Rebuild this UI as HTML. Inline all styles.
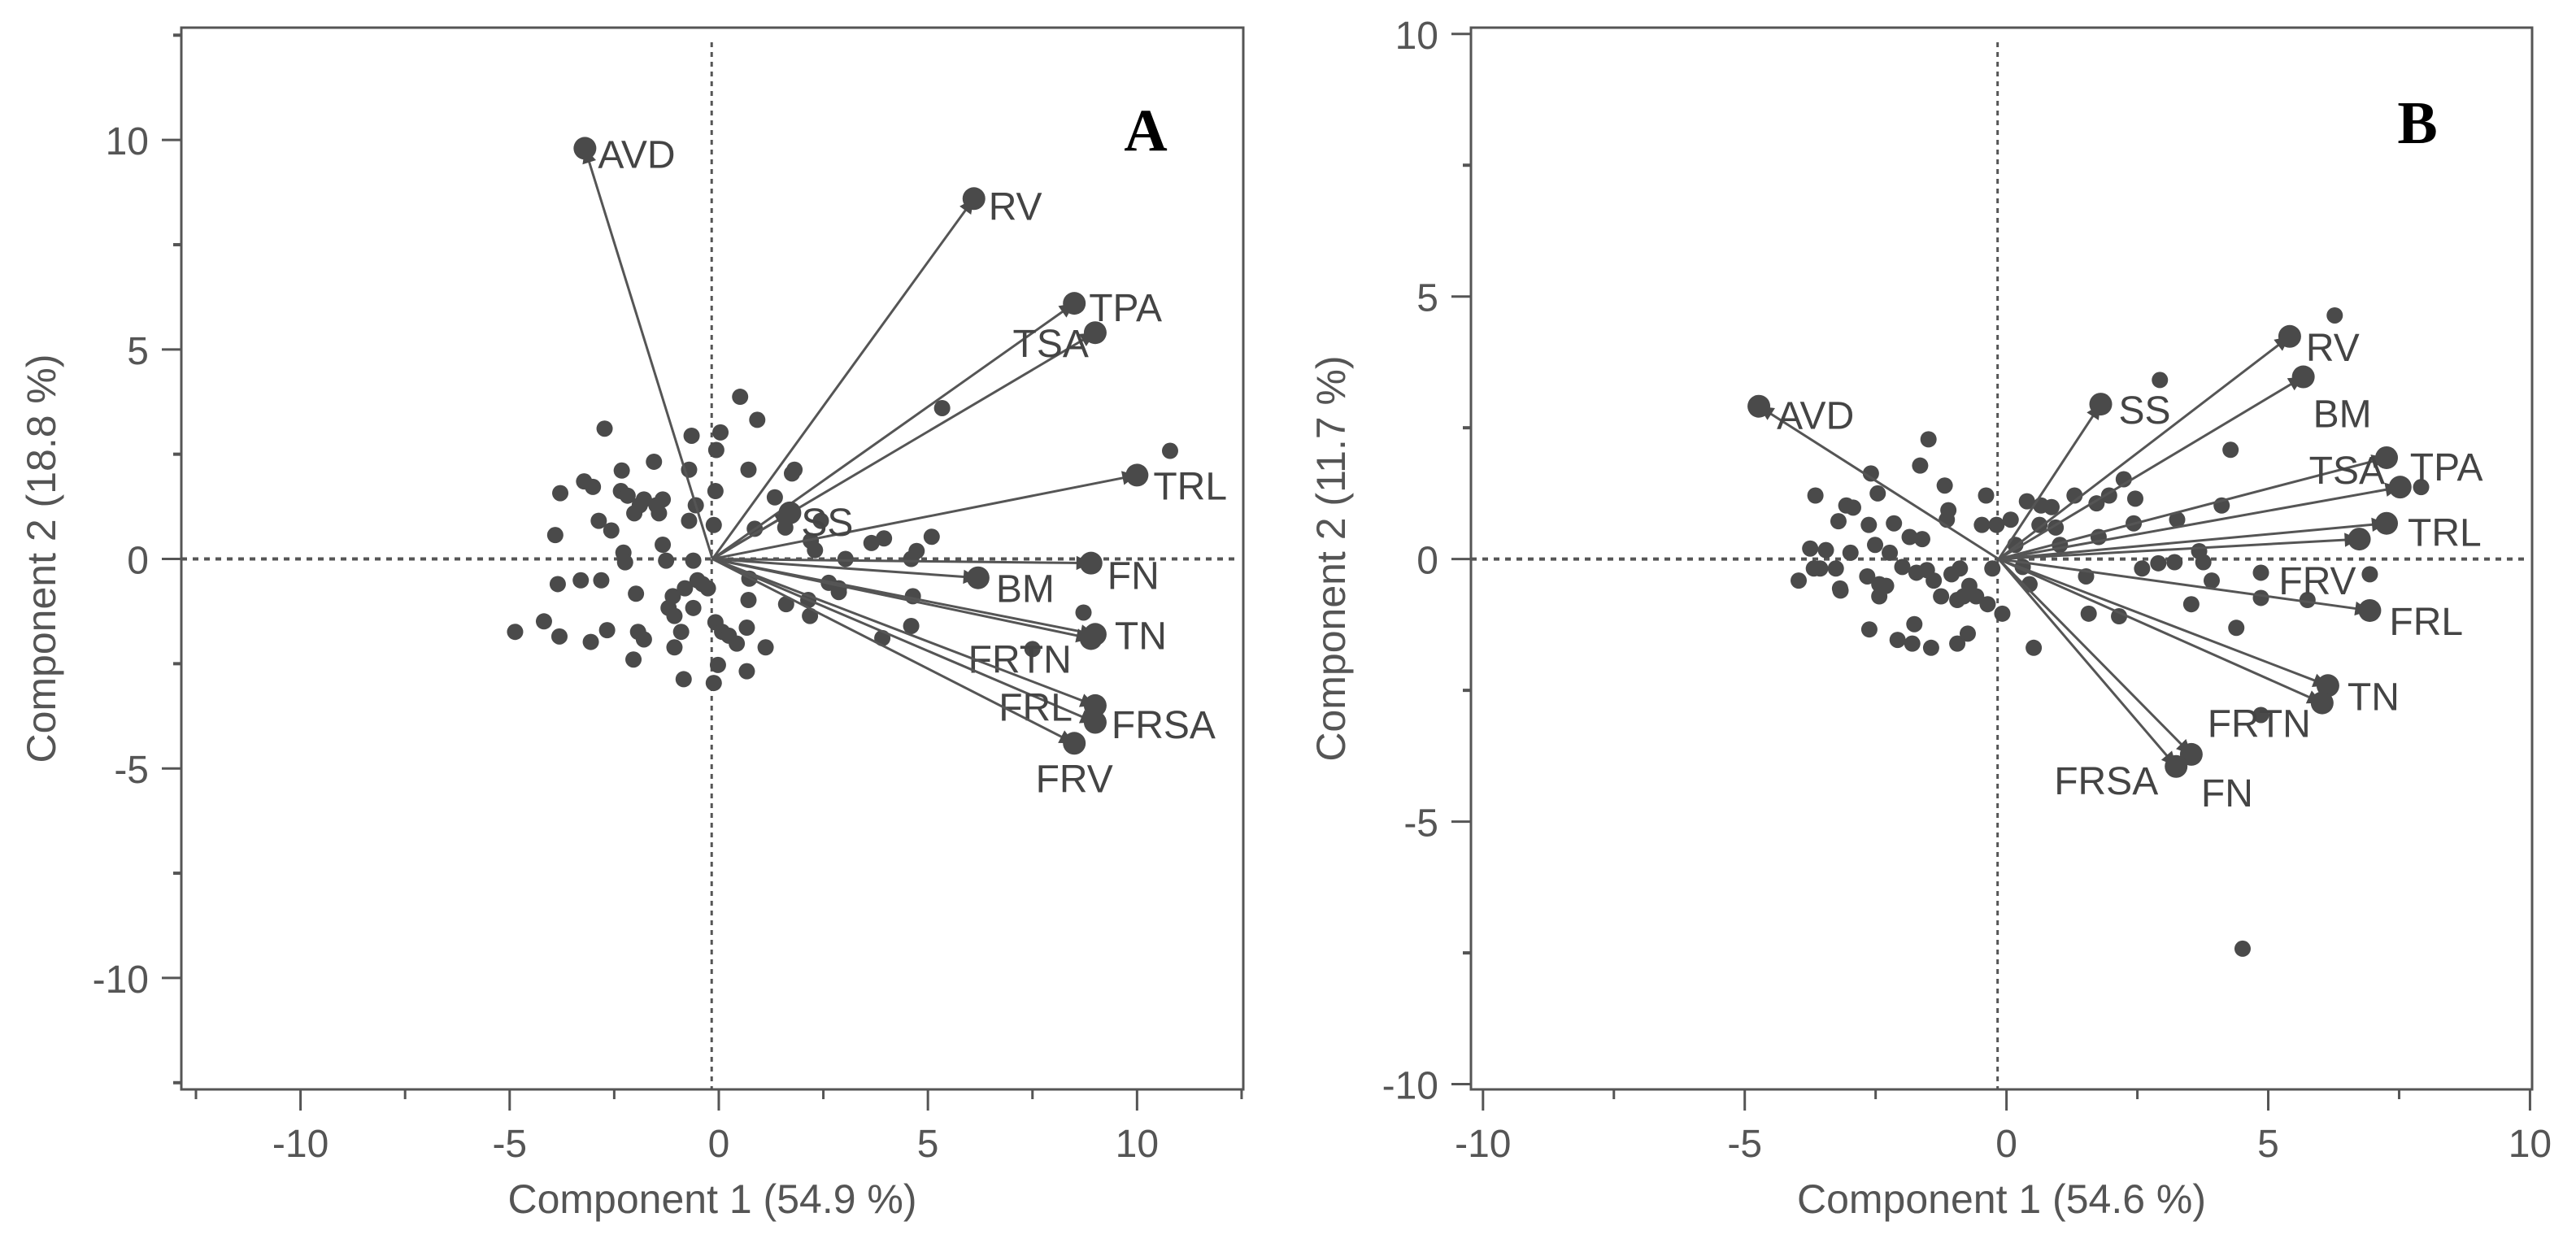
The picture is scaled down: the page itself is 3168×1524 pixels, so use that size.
<!DOCTYPE html>
<html><head><meta charset="utf-8"><style>
html,body{margin:0;padding:0;background:#fff;}
svg{display:block;font-family:"Liberation Sans",sans-serif;}
</style></head><body>
<svg id="chart" width="3168" height="1524" viewBox="0 0 3168 1524" xmlns="http://www.w3.org/2000/svg"></svg>
<script>
// ---- Panel A data ----
const aVarNames = ["AVD","RV","TPA","TSA","TRL","SS","FN","BM","TN","FRTN","FRSA","FRL","FRV"];
const aVarX = [-3.2,6.1,8.5,9.0,10.0,1.7,8.9,6.2,9.0,8.9,9.0,9.0,8.5];
const aVarY = [9.8,8.6,6.1,5.4,2.0,1.1,-0.1,-0.45,-1.8,-1.9,-3.5,-3.9,-4.4];
const aPtX = [-4.87,-4.18,-3.81,-3.06,-2.67,-3.79,-3.91,-3.85,-3.30,-3.22,-3.01,-2.73,-2.87,-2.81,-2.57,-2.32,-2.34,-2.18,-2.28,-2.24,-1.98,-2.02,-1.89,-1.79,-1.93,-1.79,-2.04,-1.55,-1.49,-1.43,-1.34,-1.26,-1.34,-1.10,-1.20,-1.06,-0.90,-1.06,-0.84,-0.71,-0.65,-0.71,-0.55,-0.81,-0.51,-0.61,-0.39,-0.26,-0.61,-0.12,-0.08,-0.06,0.04,-0.08,-0.02,-0.12,0.08,0.24,0.43,0.67,0.67,0.71,0.73,0.71,0.51,0.92,0.86,1.34,1.75,1.81,1.59,2.20,2.30,2.14,2.18,1.61,2.63,2.87,3.03,2.87,3.65,3.95,4.60,4.73,5.09,4.64,4.60,3.91,5.34,7.50,8.72,10.79,2.44,1.12];
const aPtY = [-1.74,-1.49,-1.85,-1.98,-1.70,1.57,0.57,-0.60,-0.51,1.85,1.72,3.11,0.91,-0.51,0.68,2.11,1.62,1.51,0.15,-0.08,-0.83,1.09,1.28,1.42,-1.74,-1.92,-2.40,2.32,1.28,1.09,0.34,-0.04,1.42,-0.89,-1.17,-1.36,-1.74,-2.11,-2.87,2.13,2.94,0.91,1.28,-0.70,-0.51,-1.17,-0.60,-0.70,-0.04,0.81,1.62,2.60,3.02,-1.51,-2.53,-2.96,-1.74,-1.83,-2.02,-1.64,-2.68,-0.98,-0.47,2.13,3.87,3.32,0.72,1.47,2.04,2.13,0.75,0.43,0.21,-0.98,-1.36,-1.08,-0.57,-0.70,0.0,-0.79,0.38,0.49,0.0,0.19,0.53,-0.89,-1.60,-1.89,3.60,-2.15,-1.28,2.58,0.91,-2.11];
const aTicks = [-10,-5,0,5,10];
const aTickLabels = ["-10","-5","0","5","10"];
// ---- Panel B data ----
const bVarNames = ["AVD","SS","RV","BM","TSA","TPA","TRL","FRV","FRL","TN","FRTN","FN","FRSA"];
const bVarX = [-4.73,1.80,5.41,5.67,7.26,7.52,7.26,6.74,6.94,6.14,6.03,3.53,3.24];
const bVarY = [2.91,2.95,4.24,3.47,1.93,1.37,0.68,0.38,-0.98,-2.41,-2.74,-3.72,-3.95];
const bPtX = [-3.97,-3.75,-3.68,-3.65,-3.45,-3.56,-3.26,-3.18,-3.21,-3.06,-2.98,-2.93,-3.17,-2.59,-2.46,-2.63,-2.66,-2.62,-2.51,-2.43,-2.43,-2.30,-2.23,-2.15,-2.08,-1.99,-1.85,-1.76,-1.80,-1.72,-1.65,-1.61,-1.52,-1.49,-1.44,-1.39,-1.25,-1.18,-1.14,-1.11,-1.05,-0.94,-0.94,-0.89,-0.82,-0.74,-0.71,-0.58,-0.47,-0.39,-0.36,-0.27,-0.19,-0.08,0.08,0.17,0.31,0.39,0.44,0.52,0.66,0.63,0.86,0.94,1.02,1.30,1.52,1.57,1.72,1.76,1.96,2.15,2.24,2.46,2.43,2.59,2.90,2.93,3.21,3.26,3.53,3.68,3.76,3.92,4.11,4.28,4.39,4.86,4.86,5.75,6.27,6.94,7.92,4.51,4.86];
const bPtY = [-0.41,0.20,-0.18,1.21,0.17,-0.18,-0.18,-0.56,0.72,1.02,0.12,0.98,-0.60,1.63,1.25,0.65,-0.33,-1.34,0.27,-0.48,-0.71,-0.51,0.12,0.68,-1.54,-0.15,0.42,-1.24,-1.61,-0.26,1.78,0.38,-0.21,2.28,-1.69,-0.41,-0.71,1.40,0.75,0.93,-0.29,-0.78,-1.61,-0.18,-0.71,-1.42,-0.51,-0.71,0.65,1.21,-0.86,-0.18,0.65,-1.04,0.75,0.27,-0.15,1.10,-0.48,-1.69,1.02,0.65,0.99,0.60,0.27,1.21,-0.33,-1.04,1.06,0.42,1.21,-1.09,1.52,1.15,0.68,-0.18,-0.08,3.41,-0.06,0.75,-0.86,0.15,-0.06,-0.41,1.02,2.08,-1.31,-0.26,-0.74,-0.78,4.64,-0.29,1.37,-7.42,-2.97];
const bTicks = [-10,-5,0,5,10];
const bTickLabels = ["-10","-5","0","5","10"];

const NS="http://www.w3.org/2000/svg";
const svg=document.getElementById('chart');
function mk(tag,attrs,parent){const e=document.createElementNS(NS,tag);for(const k in attrs)e.setAttribute(k,attrs[k]);(parent||svg).appendChild(e);return e;}
const C="#4a4a4a";

const aOff={AVD:[16,24,'start'],RV:[18,26,'start'],TPA:[18,22,'start'],TSA:[-8,30,'end'],TRL:[20,30,'start'],SS:[14,28,'start'],FN:[20,32,'start'],BM:[22,30,'start'],TN:[24,18,'start'],FRTN:[-24,42,'end'],FRSA:[20,40,'start'],FRL:[-28,-2,'end'],FRV:[0,60,'middle']};
const bOff={AVD:[22,28,'start'],SS:[22,24,'start'],RV:[20,30,'start'],BM:[12,62,'start'],TSA:[-2,32,'end'],TPA:[12,-8,'start'],TRL:[26,28,'start'],FRV:[-4,68,'end'],FRL:[24,30,'start'],TN:[24,30,'start'],FRTN:[-14,42,'end'],FN:[12,64,'start'],FRSA:[-22,34,'end']};

function panel(o){
  const g=mk('g',{});
  
  
  const sx=v=>o.L+(v-o.xmin)/(o.xmax-o.xmin)*(o.R-o.L);
  const sy=v=>o.B-(v-o.ymin)/(o.ymax-o.ymin)*(o.B-o.T);
  const fr=mk('rect',{x:o.L,y:o.T,width:o.R-o.L,height:o.B-o.T,fill:'none',stroke:'#555','stroke-width':3},g);
  
  // ticks
  for(let v=Math.ceil(o.xmin/2.5)*2.5; v<=o.xmax+1e-9; v+=2.5){
    const major=Math.abs(v%5)<1e-9;
    mk('line',{x1:sx(v),y1:o.B,x2:sx(v),y2:o.B+(major?26:12),stroke:'#555','stroke-width':3},g);
  }
  for(let v=Math.ceil(o.ymin/2.5)*2.5; v<=o.ymax+1e-9; v+=2.5){
    const major=Math.abs(v%5)<1e-9;
    mk('line',{x1:o.L,y1:sy(v),x2:o.L-(major?24:10),y2:sy(v),stroke:'#555','stroke-width':major?3:4},g);
  }
  o.ticks.forEach((v,i)=>{
    const t=mk('text',{x:sx(v),y:o.B+83,'text-anchor':'middle','font-size':48,fill:'#555'},g);
    t.textContent=o.tickLabels[i];
    
    if(v>=o.ymin&&v<=o.ymax){
      const u=mk('text',{x:o.L-40,y:sy(v)+18,'text-anchor':'end','font-size':48,fill:'#555'},g);
      u.textContent=o.tickLabels[i];
      
    }
  });
  const xt=mk('text',{x:(o.L+o.R)/2,y:1492,'text-anchor':'middle','font-size':50,fill:'#555'},g);
  xt.textContent=o.xtitle;
  
  const yt=mk('text',{x:0,y:0,'text-anchor':'middle','font-size':50,fill:'#555',transform:`translate(${o.L-155},${(o.T+o.B)/2}) rotate(-90)`},g);
  yt.textContent=o.ytitle;
  
  // zero lines
  const zv=mk('line',{x1:sx(-0.17),y1:o.T+18,x2:sx(-0.17),y2:o.B,stroke:'#555','stroke-width':3,'stroke-dasharray':'6,6'},g);
  
  const zh=mk('line',{x1:o.L,y1:sy(0),x2:o.R-10,y2:sy(0),stroke:'#555','stroke-width':4,'stroke-dasharray':'7,7'},g);
  
  // points
  o.px.forEach((x,i)=>{
    const c=mk('circle',{cx:sx(x),cy:sy(o.py[i]),r:10,fill:C},g);
    
  });
  // vectors
  o.vn.forEach((n,i)=>{
    const x0=sx(-0.15),y0=sy(0),x1=sx(o.vx[i]),y1=sy(o.vy[i]);
    const l=mk('line',{x1:x0,y1:y0,x2:x1,y2:y1,stroke:'#555','stroke-width':3},g);
    
    const ang=Math.atan2(y1-y0,x1-x0),s=20;
    const p=[[x1,y1],[x1-s*Math.cos(ang-0.45),y1-s*Math.sin(ang-0.45)],[x1-s*Math.cos(ang+0.45),y1-s*Math.sin(ang+0.45)]];
    const h=mk('polygon',{points:p.map(q=>q.join(',')).join(' '),fill:C},g);
    
    const m=mk('circle',{cx:x1,cy:y1,r:14,fill:C},g);
    
    const off=o.off[n]||[14,20,'start'];
    const t=mk('text',{x:x1+off[0],y:y1+off[1],'text-anchor':off[2],'font-size':48,fill:'#444'},g);
    t.textContent=n;
    
  });
  const pl=mk('text',{x:o.letterX,y:o.letterY,'text-anchor':'middle','font-size':74,'font-weight':'bold','font-family':'"Liberation Serif",serif',fill:'#000'},g);
  pl.textContent=o.letter;
  
}
panel({name:'panel-a',L:223,R:1529,T:34,B:1340,xmin:-12.85,xmax:12.54,ymin:-12.66,ymax:12.68,
  ticks:aTicks,tickLabels:aTickLabels,xtitle:'Component 1  (54.9 %)',ytitle:'Component 2  (18.8 %)',
  px:aPtX,py:aPtY,vn:aVarNames,vx:aVarX,vy:aVarY,off:aOff,letter:'A',letterX:1409,letterY:185});
panel({name:'panel-b',L:1809,R:3114,T:34,B:1340,xmin:-10.23,xmax:10.04,ymin:-10.1,ymax:10.12,
  ticks:bTicks,tickLabels:bTickLabels,xtitle:'Component 1  (54.6 %)',ytitle:'Component 2  (11.7 %)',
  px:bPtX,py:bPtY,vn:bVarNames,vx:bVarX,vy:bVarY,off:bOff,letter:'B',letterX:2973,letterY:176});
</script>
</body></html>
